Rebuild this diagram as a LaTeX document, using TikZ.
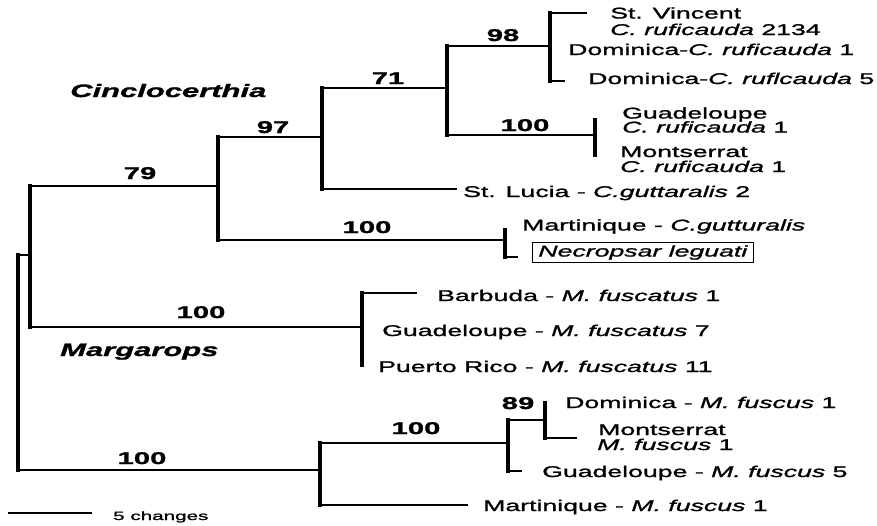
\documentclass[tikz,border=0pt]{standalone}
\usepackage{fontspec}
\setmainfont{Liberation Sans}[FakeStretch=1.72,FakeBold=1.4]
\begin{document}
\begin{tikzpicture}[x=1pt,y=-1pt,
  vl/.style={line width=3.2pt,line cap=rect},
  hl/.style={line width=2.2pt},
  tx/.style={anchor=base west,inner sep=0pt,font=\fontsize{15.5}{17}\selectfont},
  bnum/.style={anchor=base,inner sep=0pt,font=\fontsize{17}{17}\selectfont\bfseries},
  genus/.style={anchor=base west,inner sep=0pt,font=\fontsize{18}{18}\selectfont\bfseries\itshape}]
\useasboundingbox (0,0) rectangle (877,525);
% internal nodes
\coordinate (R) at (18,255);
\coordinate (A) at (30,255);
\coordinate (n79) at (218,186);
\coordinate (n97) at (322,137);
\coordinate (n71) at (447,88);
\coordinate (n98) at (550,46);
\coordinate (nG) at (595,135);
\coordinate (nM) at (505,240);
\coordinate (nMg) at (362,327);
\coordinate (nF) at (320,470);
\coordinate (nF2) at (508,443);
\coordinate (n89) at (545,420);
% leaf ends
\coordinate (lStV) at (587,13);
\coordinate (lDom5) at (565,81);
\coordinate (lStL) at (457,189);
\coordinate (lGuad) at (595,120);
\coordinate (lMontC) at (595,155);
\coordinate (lMart) at (505,230);
\coordinate (lNec) at (518,257);
\coordinate (lBar) at (417,293);
\coordinate (lPR) at (362,365);
\coordinate (lDomF) at (545,403);
\coordinate (lMont) at (577,438);
\coordinate (lGuadF) at (522,471);
\coordinate (lMartF) at (468,505);
\coordinate (sb1) at (8,513);
\coordinate (sb2) at (92,513);
% verticals
\draw[vl] (R) -- (R |- nF);
\draw[vl] (A |- n79) -- (A |- nMg);
\draw[vl] (n79 |- n97) -- (n79 |- nM);
\draw[vl] (n97 |- n71) -- (n97 |- lStL);
\draw[vl] (n71 |- n98) -- (n71 |- nG);
\draw[vl] (n98 |- lStV) -- (n98 |- lDom5);
\draw[vl] (lGuad) -- (lMontC);
\draw[vl] (lMart) -- (nM |- lNec);
\draw[vl] (nMg |- lBar) -- (lPR);
\draw[vl] (nF |- nF2) -- (nF |- lMartF);
\draw[vl] (nF2 |- n89) -- (nF2 |- lGuadF);
\draw[vl] (lDomF) -- (n89 |- lMont);
% horizontals
\draw[hl] (R) -- (A);
\draw[hl] (A |- n79) -- (n79);
\draw[hl] (n79 |- n97) -- (n97);
\draw[hl] (n97 |- n71) -- (n71);
\draw[hl] (n71 |- n98) -- (n98);
\draw[hl] (n98 |- lStV) -- (lStV);
\draw[hl] (n98 |- lDom5) -- (lDom5);
\draw[hl] (n71 |- nG) -- (nG);
\draw[hl] (n97 |- lStL) -- (lStL);
\draw[hl] (n79 |- nM) -- (nM);
\draw[hl] (nM |- lNec) -- (lNec);
\draw[hl] (A |- nMg) -- (nMg);
\draw[hl] (nMg |- lBar) -- (lBar);
\draw[hl] (R |- nF) -- (nF);
\draw[hl] (nF |- nF2) -- (nF2);
\draw[hl] (nF |- lMartF) -- (lMartF);
\draw[hl] (nF2 |- n89) -- (n89);
\draw[hl] (nF2 |- lGuadF) -- (lGuadF);
\draw[hl] (n89 |- lMont) -- (lMont);
\draw[line width=1.8pt] (sb1) -- (sb2);
% support values
\node[bnum] (b79) at (140,179) {79};
\node[bnum] (b97) at (273,133) {97};
\node[bnum] (b71) at (388,84) {71};
\node[bnum] (b98) at (503,41) {98};
\node[bnum] (b100g) at (525,131) {100};
\node[bnum] (b100m) at (367,233) {100};
\node[bnum] (b100mg) at (201,318) {100};
\node[bnum] (b100f2) at (416,434) {100};
\node[bnum] (b100f) at (142,464) {100};
\node[bnum] (b89) at (518,409) {89};
% genus names
\node[genus] (gC) at (70,97) {Cinclocerthia};
\node[genus] (gM) at (60,356) {Margarops};
% taxa
\node[tx] (tStV1) at (610,18.5) {St. Vincent};
\node[tx] (tStV2) at (610,35) {\textit{C. ruficauda} 2134};
\node[tx] (tDom1) at (568,55) {Dominica-\textit{C. ruficauda} 1};
\node[tx] (tDom5) at (588,84) {Dominica-\textit{C. ruflcauda} 5};
\node[tx] (tGu1) at (622,118.5) {Guadeloupe};
\node[tx] (tGu2) at (622,132.5) {\textit{C. ruficauda} 1};
\node[tx] (tMo1) at (620,157) {Montserrat};
\node[tx] (tMo2) at (620,172) {\textit{C. ruficauda} 1};
\node[tx] (tStL) at (463,197) {St. Lucia - \textit{C.guttaralis} 2};
\node[tx] (tMar) at (522,230.5) {Martinique - \textit{C.gutturalis}};
\node[draw,line width=0.8pt,anchor=west,inner xsep=6pt,inner ysep=2.4pt,font=\fontsize{15.5}{17}\selectfont\itshape] (tNec) at (532,252.5) {Necropsar leguati};
\node[tx] (tBar) at (437,301) {Barbuda - \textit{M. fuscatus} 1};
\node[tx] (tGuM) at (382,336) {Guadeloupe - \textit{M. fuscatus} 7};
\node[tx] (tPR) at (378,372) {Puerto Rico - \textit{M. fuscatus} 11};
\node[tx] (tDoF) at (565,408) {Dominica - \textit{M. fuscus} 1};
\node[tx] (tMoF1) at (598,435) {Montserrat};
\node[tx] (tMoF2) at (597,450) {\textit{M. fuscus} 1};
\node[tx] (tGuF) at (542,477) {Guadeloupe - \textit{M. fuscus} 5};
\node[tx] (tMaF) at (483,511) {Martinique - \textit{M. fuscus} 1};
\node[tx,font=\fontsize{12}{12}\selectfont] (tsc) at (113,520) {5 changes};
\end{tikzpicture}
\end{document}
